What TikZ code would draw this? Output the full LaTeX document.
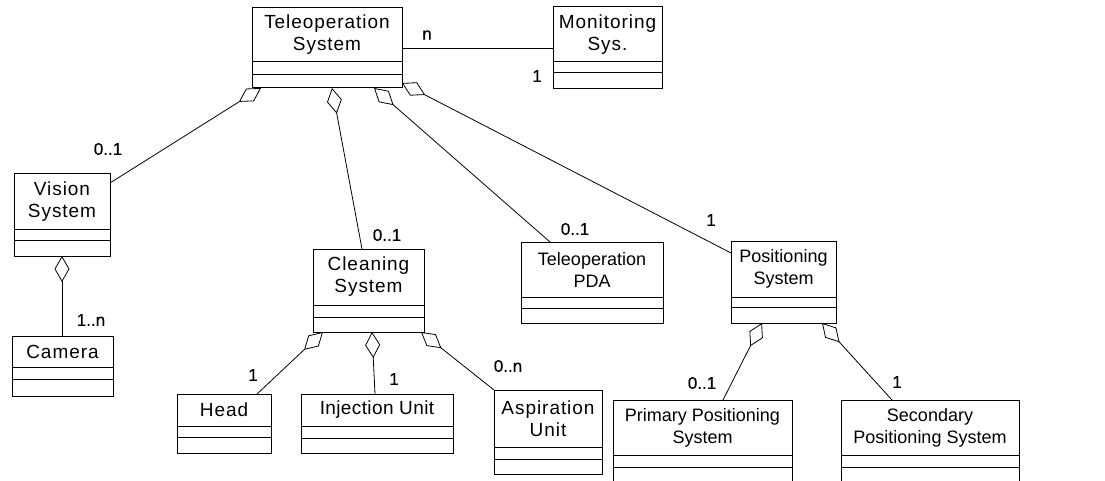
\documentclass[tikz,border=0pt]{standalone}
\usepackage{fontspec}
\setmainfont{Liberation Sans}
\newfontfamily\classfont[LetterSpace=5]{Liberation Sans}
\newfontfamily\midfont[LetterSpace=2]{Liberation Sans}
\newfontfamily\multfont[FakeBold=0.6]{Liberation Sans}
\usetikzlibrary{arrows.meta,calc}

\tikzset{
  umlline/.style={line width=0.8pt},
  agg/.style={umlline, {Diamond[open,length=26pt,width=15pt,line width=0.8pt]}-},
  mult/.style={font=\multfont\fontsize{17}{20}\selectfont, inner sep=0pt},
  classname/.style={font=\classfont\fontsize{19}{22}\selectfont, align=center, inner sep=0pt},
  spaced/.style={},
  medium/.style={font=\midfont\fontsize{19}{22}\selectfont},
  tight/.style={font=\rmfamily\fontsize{18}{22}\selectfont},
  classbox/.style={draw, line width=1pt, inner sep=0pt, outer sep=0pt, anchor=north west},
}

% UML class: name, left, top, right, bottom, first divider, second divider, title, title style
\newcommand{\umlclass}[9]{%
  \node[classbox, minimum width={#4-#2}, minimum height={#5-#3}] (#1) at (#2,#3) {};
  \draw[line width=1pt] (#2,#6) -- (#4,#6);
  \draw[line width=1pt] (#2,#7) -- (#4,#7);
  \node[classname, #9] (#1-title) at ({(#2+#4)/2},{(#3+#6)/2}) {#8};
}

\begin{document}
\begin{tikzpicture}[x=1pt,y=-1pt]
\useasboundingbox (0,0) rectangle (1105,481);
\clip (0,0) rectangle (1105,481);

% classes
\umlclass{ts}{252}{8}{402}{88}{62}{75}{Teleoperation\\System}{spaced}
\umlclass{mon}{553}{7}{662}{89}{62}{73}{Monitoring\\Sys.}{spaced}
\umlclass{vision}{14}{174}{110}{256}{229}{240}{Vision\\System}{spaced}
\umlclass{camera}{12}{336}{113}{396}{367}{379}{Camera}{spaced}
\umlclass{cleaning}{313}{249}{424}{332}{305}{317}{Cleaning\\System}{spaced}
\umlclass{head}{177}{394}{271}{453}{426}{437}{Head}{spaced}
\umlclass{injection}{301}{394}{453}{453}{426}{438}{Injection Unit}{medium}
\umlclass{aspiration}{494}{390}{602}{474}{447}{459}{Aspiration\\Unit}{spaced}
\umlclass{pda}{521}{242}{663}{323}{297}{308}{Teleoperation\\PDA}{tight}
\umlclass{pos}{731}{241}{836}{323}{297}{307}{Positioning\\System}{tight}
\umlclass{primary}{613}{400}{792}{530}{455}{467}{Primary Positioning\\System}{tight}
\umlclass{secondary}{841}{400}{1019}{530}{455}{467}{Secondary\\Positioning System}{tight}

% associations
\draw[umlline] (ts.east) -- (mon.west);
\draw[agg] ($(ts.south west)+(9,0)$) -- ($(vision.north east)+(0,9)$);
\draw[agg] ($(ts.south west)+(80,0)$) -- ($(cleaning.north west)+(49,0)$);
\draw[agg] ($(ts.south west)+(122,0)$) -- ($(pda.north west)+(29,0)$);
\draw[agg] ($(ts.south east)+(0,-5)$) -- ($(pos.north west)+(0,12)$);
\draw[agg] (vision.south) -- (camera.north -| vision.south);
\draw[agg] ($(cleaning.south west)+(10,0)$) -- ($(head.north west)+(80,0)$);
\draw[agg] ($(cleaning.south west)+(59,0)$) -- ($(injection.north west)+(74,0)$);
\draw[agg] ($(cleaning.south west)+(108,0)$) -- (aspiration.north west);
\draw[agg] ($(pos.south west)+(31,0)$) -- ($(primary.north west)+(110,0)$);
\draw[agg] ($(pos.south west)+(91,0)$) -- ($(secondary.north west)+(51,0)$);

% multiplicities
\node[mult] (m-ts-mon) at (427,35) {n};
\node[mult] (m-mon) at (537,76) {1};
\node[mult] (m-vision) at (108,149) {0..1};
\node[mult] (m-cleaning) at (387,235) {0..1};
\node[mult] (m-pda) at (575,229) {0..1};
\node[mult] (m-pos) at (711,220) {1};
\node[mult] (m-camera) at (91,320) {1..n};
\node[mult] (m-head) at (253,375) {1};
\node[mult] (m-injection) at (394,379) {1};
\node[mult] (m-aspiration) at (508,366) {0..n};
\node[mult] (m-primary) at (702,383) {0..1};
\node[mult] (m-secondary) at (897,382) {1};
\end{tikzpicture}
\end{document}
